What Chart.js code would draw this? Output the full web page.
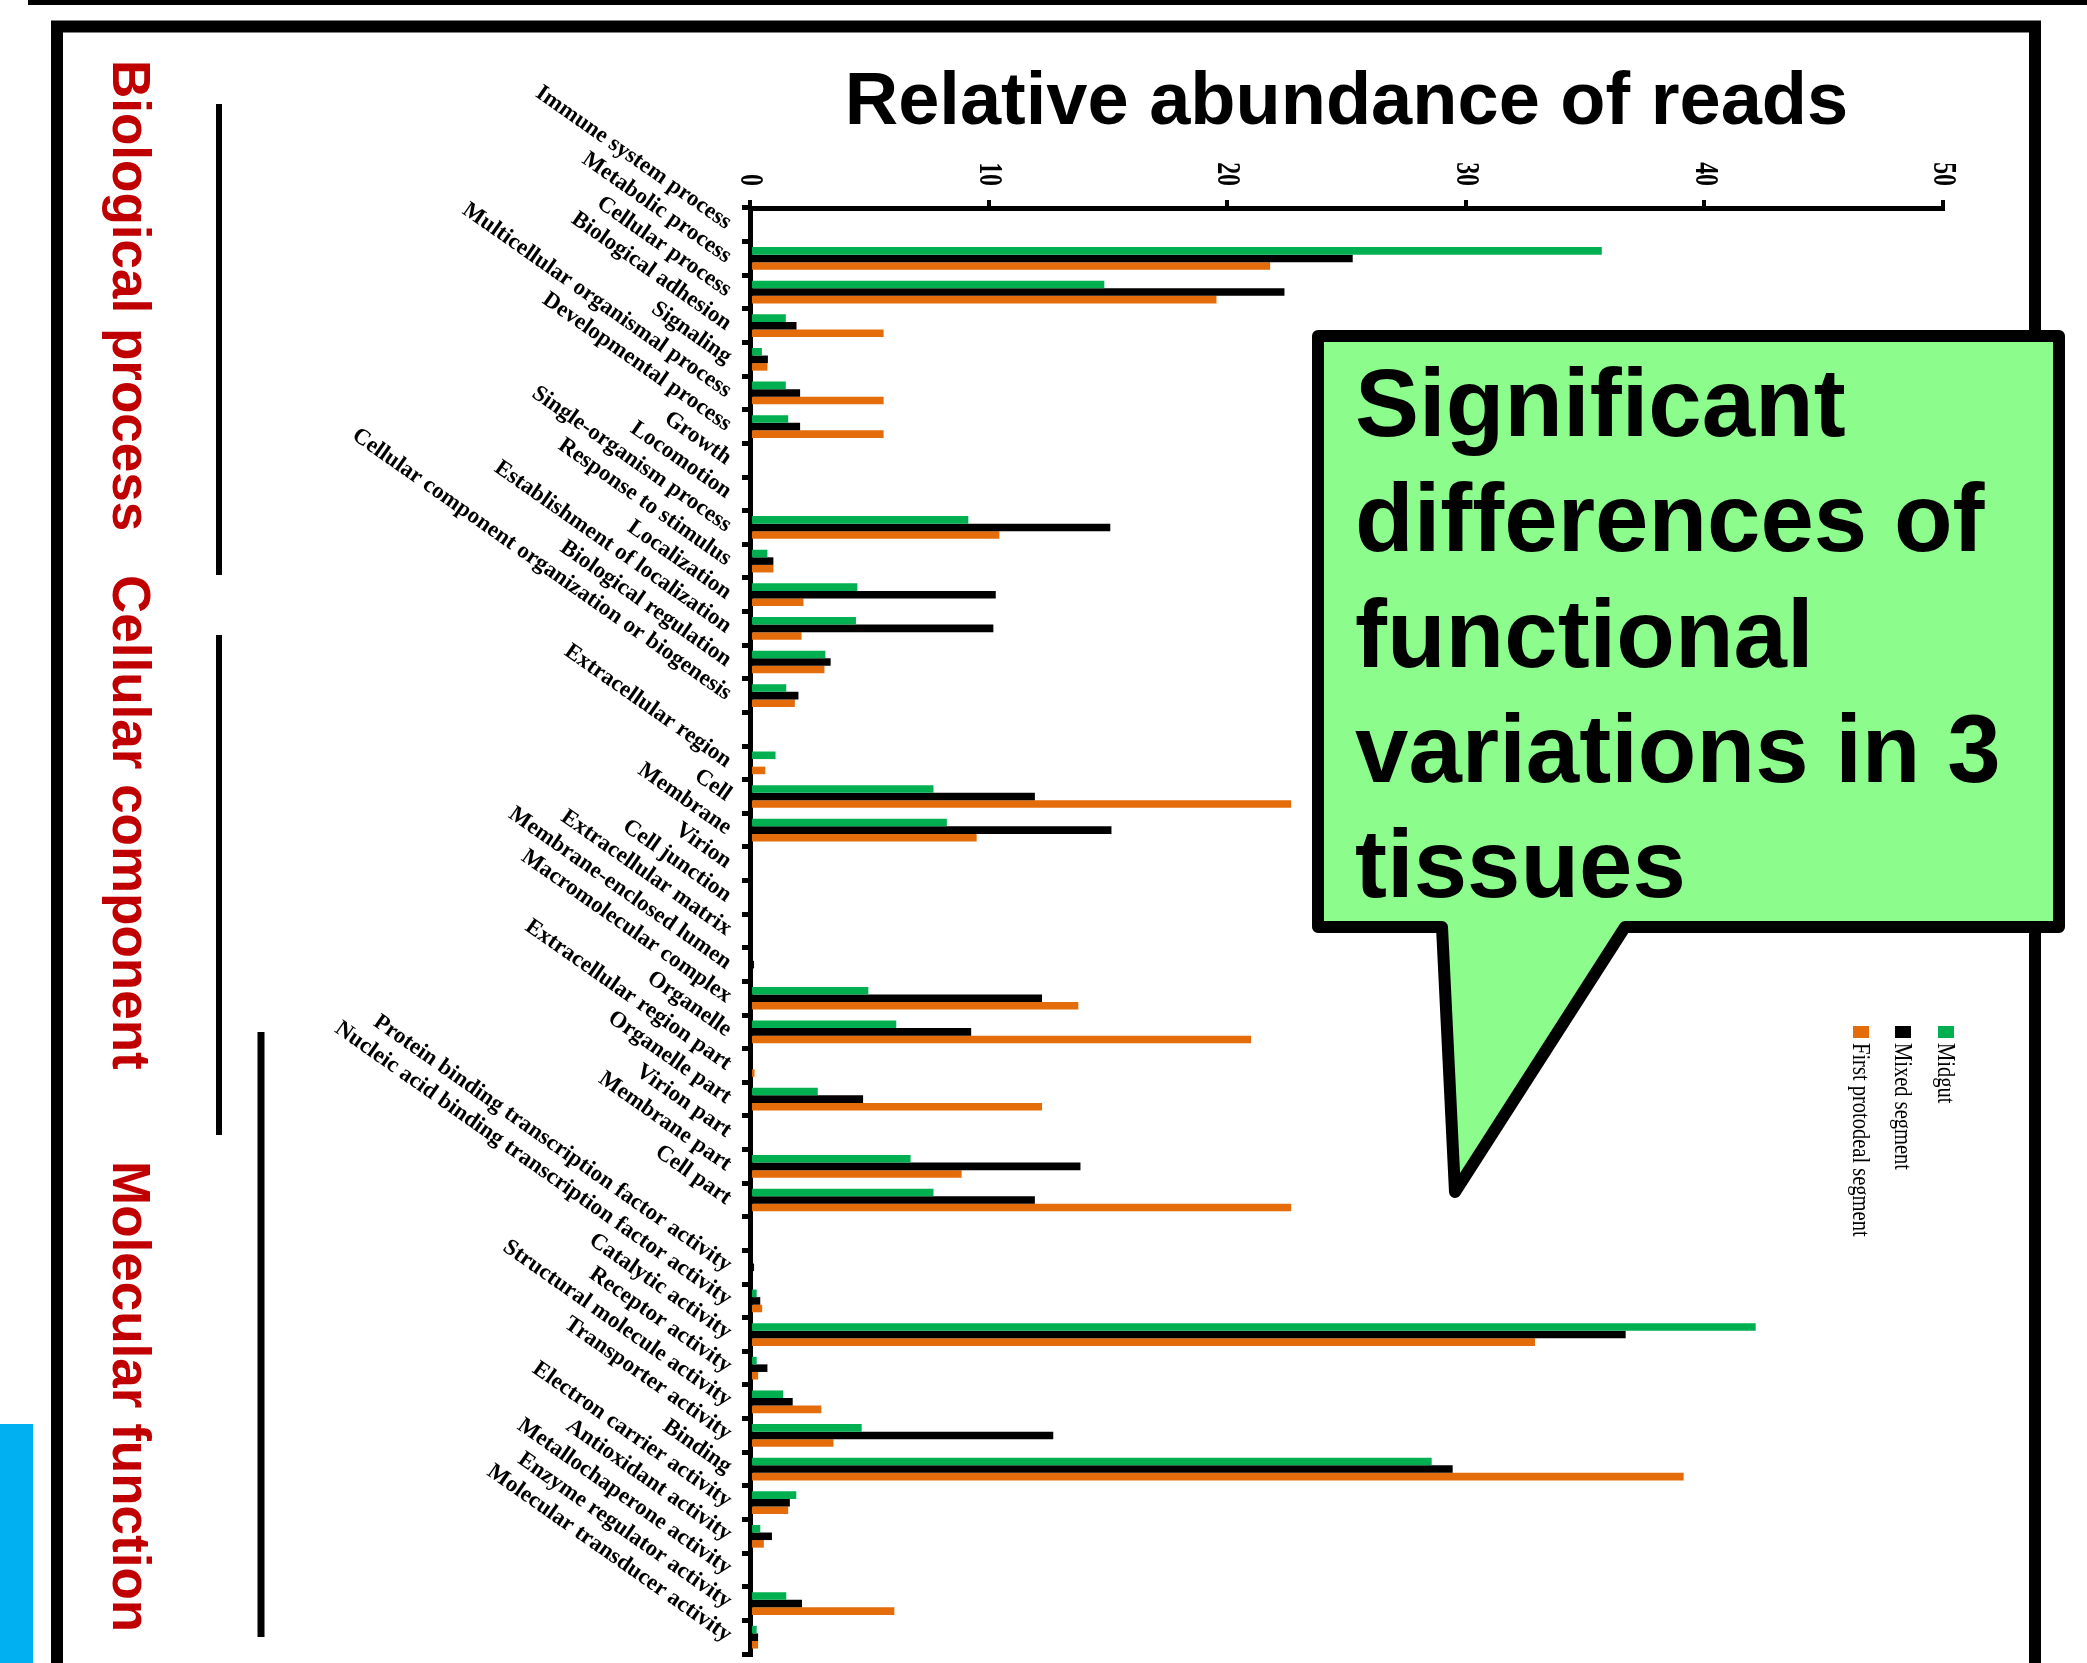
<!DOCTYPE html>
<html>
<head>
<meta charset="utf-8">
<script src="https://cdn.jsdelivr.net/npm/chart.js@4/dist/chart.umd.min.js"></script>
<style>
  html, body { margin: 0; padding: 0; background: #ffffff; }
  #wrap { position: relative; width: 2087px; height: 1663px; overflow: hidden; }
  canvas { display: block; }
</style>
</head>
<body>
<div id="wrap"><canvas id="c" width="2087" height="1663"></canvas></div>
<script>
// ---------------- DATA ----------------
const chartTitle = 'Relative abundance of reads';

const categories = [
  'Immune system process', 'Metabolic process', 'Cellular process', 'Biological adhesion',
  'Signaling', 'Multicellular organismal process', 'Developmental process', 'Growth',
  'Locomotion', 'Single-organism process', 'Response to stimulus', 'Localization',
  'Establishment of localization', 'Biological regulation',
  'Cellular component organization or biogenesis',
  '',
  'Extracellular region', 'Cell', 'Membrane', 'Virion', 'Cell junction', 'Extracellular matrix',
  'Membrane-enclosed lumen', 'Macromolecular complex', 'Organelle', 'Extracellular region part',
  'Organelle part', 'Virion part', 'Membrane part', 'Cell part',
  '',
  'Protein binding transcription factor activity', 'Nucleic acid binding transcription factor activity',
  'Catalytic activity', 'Receptor activity', 'Structural molecule activity', 'Transporter activity',
  'Binding', 'Electron carrier activity', 'Antioxidant activity', 'Metallochaperone activity',
  'Enzyme regulator activity', 'Molecular transducer activity'
];

const midgut = [
  0, 35.7, 14.85, 1.5, 0.5, 1.5, 1.6, 0, 0, 9.15, 0.73, 4.5, 4.44, 3.16, 1.52,
  0,
  1.07, 7.69, 8.25, 0, 0, 0, 0, 4.96, 6.13, 0, 2.84, 0, 6.73, 7.69,
  0,
  0, 0.28, 42.15, 0.28, 1.39, 4.68, 28.57, 1.94, 0.43, 0, 1.52, 0.28
];
const mixedSegment = [
  0, 25.26, 22.4, 1.95, 0.75, 2.1, 2.1, 0, 0, 15.1, 0.98, 10.3, 10.2, 3.38, 2.03,
  0,
  0, 11.94, 15.15, 0, 0, 0, 0.17, 12.24, 9.27, 0, 4.74, 0, 13.85, 11.94,
  0,
  0.17, 0.43, 36.7, 0.73, 1.79, 12.71, 29.45, 1.67, 0.92, 0, 2.18, 0.34
];
const firstProctodeal = [
  0, 21.8, 19.55, 5.6, 0.73, 5.6, 5.6, 0, 0, 10.45, 0.98, 2.24, 2.16, 3.12, 1.88,
  0,
  0.64, 22.68, 9.5, 0, 0, 0, 0, 13.76, 21.0, 0.19, 12.24, 0, 8.87, 22.68,
  0,
  0, 0.51, 32.9, 0.34, 2.99, 3.5, 39.13, 1.6, 0.58, 0, 6.05, 0.34
];

const seriesNames = ['Midgut', 'Mixed segment', 'First protodeal segment'];
const seriesColors = ['#00b050', '#000000', '#e46c0a'];
const groupNames = ['Biological process', 'Cellular component', 'Molecular function'];
const calloutLines = ['Significant', 'differences of', 'functional', 'variations in 3', 'tissues'];
const axisMin = 0, axisMax = 50, axisStep = 10;

// ---------------- DECORATION PLUGIN ----------------
const decorations = {
  id: 'decorations',
  afterDraw(chart) {
    const ctx = chart.ctx;
    ctx.save();

    // top rule of the slide
    ctx.fillStyle = '#000';
    ctx.fillRect(28, 0, 2087 - 28, 5);

    // frame
    ctx.strokeStyle = '#000';
    ctx.lineWidth = 12;
    ctx.beginPath();
    ctx.moveTo(57, 1700);
    ctx.lineTo(57, 26.5);
    ctx.lineTo(2035, 26.5);
    ctx.lineTo(2035, 1700);
    ctx.stroke();

    // blue tab bottom-left
    ctx.fillStyle = '#00b0f0';
    ctx.fillRect(0, 1424, 33, 1663 - 1424);

    // group labels (rotated clockwise)
    const groupStarts = [60, 575, 1161];
    ctx.fillStyle = '#c00000';
    ctx.font = 'bold 53px "Liberation Sans", Arial, sans-serif';
    ctx.textAlign = 'left';
    ctx.textBaseline = 'alphabetic';
    groupNames.forEach((g, i) => {
      ctx.save();
      ctx.translate(113, groupStarts[i]);
      ctx.rotate(Math.PI / 2);
      ctx.fillText(g, 0, 0);
      ctx.restore();
    });

    // bracket lines
    ctx.strokeStyle = '#000';
    ctx.lineCap = 'butt';
    ctx.lineWidth = 6;
    ctx.beginPath(); ctx.moveTo(219, 104); ctx.lineTo(219, 575); ctx.stroke();
    ctx.beginPath(); ctx.moveTo(219, 635); ctx.lineTo(219, 1135); ctx.stroke();
    ctx.lineWidth = 7;
    ctx.beginPath(); ctx.moveTo(261, 1032); ctx.lineTo(261, 1637); ctx.stroke();

    // value-axis tick labels (rotated clockwise, from the scale's own ticks)
    const xs = chart.scales.x;
    ctx.fillStyle = '#000';
    ctx.font = 'bold 34px "Liberation Serif", "Times New Roman", serif';
    ctx.textAlign = 'right';
    ctx.textBaseline = 'middle';
    xs.ticks.forEach(t => {
      const px = xs.getPixelForValue(t.value);
      ctx.save();
      ctx.translate(px, xs.bottom - 22);
      ctx.rotate(Math.PI / 2);
      ctx.scale(0.7, 1);
      ctx.fillText(String(t.value), 0, 0);
      ctx.restore();
    });

    // legend (rotated clockwise)
    const legX = [1938, 1895, 1853];
    ctx.font = '25px "Liberation Serif", "Times New Roman", serif';
    ctx.textAlign = 'left';
    ctx.textBaseline = 'alphabetic';
    chart.data.datasets.forEach((ds, i) => {
      ctx.fillStyle = ds.backgroundColor;
      ctx.fillRect(legX[i], 1026, 16, 12);
      ctx.fillStyle = '#000';
      ctx.save();
      ctx.translate(legX[i], 1043);
      ctx.rotate(Math.PI / 2);
      ctx.scale(0.82, 1);
      ctx.fillText(ds.label, 0, 0);
      ctx.restore();
    });

    // callout bubble
    ctx.beginPath();
    ctx.moveTo(1318, 336);
    ctx.lineTo(2059, 336);
    ctx.lineTo(2059, 927);
    ctx.lineTo(1625, 927);
    ctx.lineTo(1455, 1192);
    ctx.lineTo(1442, 927);
    ctx.lineTo(1318, 927);
    ctx.closePath();
    ctx.fillStyle = '#8cfd8c';
    ctx.fill();
    ctx.lineJoin = 'round';
    ctx.lineWidth = 12;
    ctx.strokeStyle = '#000';
    ctx.stroke();

    ctx.fillStyle = '#000';
    ctx.font = 'bold 96px "Liberation Sans", Arial, sans-serif';
    ctx.textAlign = 'left';
    ctx.textBaseline = 'alphabetic';
    calloutLines.forEach((ln, i) => {
      ctx.fillText(ln, 1355, 436 + i * 115.3);
    });

    ctx.restore();
  }
};

// ---------------- CHART ----------------
const ctx = document.getElementById('c').getContext('2d');
new Chart(ctx, {
  type: 'bar',
  data: {
    labels: categories,
    datasets: [
      { label: seriesNames[0], data: midgut, backgroundColor: seriesColors[0] },
      { label: seriesNames[1], data: mixedSegment, backgroundColor: seriesColors[1] },
      { label: seriesNames[2], data: firstProctodeal, backgroundColor: seriesColors[2] }
    ]
  },
  options: {
    indexAxis: 'y',
    responsive: false,
    devicePixelRatio: 1,
    animation: false,
    datasets: { bar: { categoryPercentage: 0.675, barPercentage: 1.0, borderWidth: 0 } },
    layout: { padding: { top: 10, left: 0, right: 144, bottom: 9 } },
    plugins: {
      legend: { display: false },
      tooltip: { enabled: false },
      title: {
        display: true,
        text: chartTitle,
        fullSize: false,
        align: 'center',
        color: '#000',
        font: { family: '"Liberation Sans", Arial, sans-serif', size: 74, weight: 'bold', lineHeight: 1.2 },
        padding: { top: 49, bottom: 52.2 }
      }
    },
    scales: {
      x: {
        position: 'top',
        min: axisMin,
        max: axisMax,
        ticks: { stepSize: axisStep, display: false },
        grid: { drawOnChartArea: false, drawTicks: true, tickLength: 8, lineWidth: 4, color: '#000' },
        border: { display: true, width: 5, color: '#000' },
        afterFit(s) { s.height = 8; s.paddingLeft = 0; s.paddingRight = 0; }
      },
      y: {
        position: 'left',
        grid: { drawOnChartArea: false, drawTicks: true, tickLength: 8, lineWidth: 5, color: '#000', offset: true },
        border: { display: true, width: 5, color: '#000' },
        ticks: {
          autoSkip: false,
          minRotation: -35,
          maxRotation: -35,
          padding: 13,
          color: '#000',
          font: { family: '"Liberation Serif", "Times New Roman", serif', size: 23, weight: 'bold', lineHeight: 1.2 }
        },
        afterFit(s) { s.width = 750; s.paddingTop = 0; s.paddingBottom = 0; }
      }
    }
  },
  plugins: [decorations]
});
</script>
</body>
</html>
